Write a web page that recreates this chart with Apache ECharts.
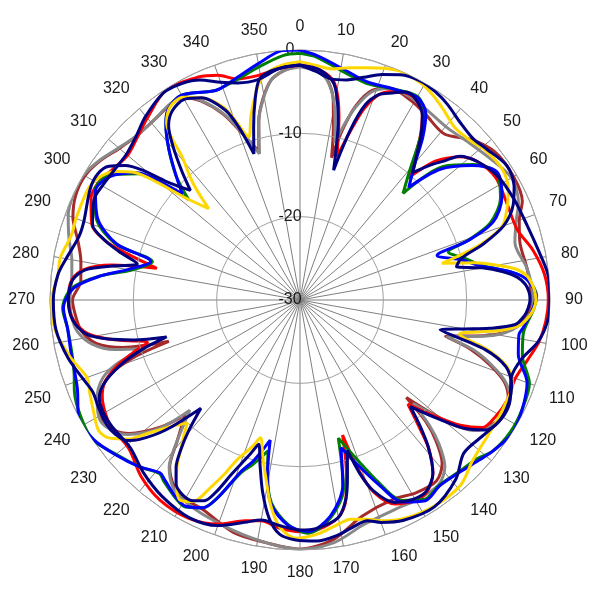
<!DOCTYPE html>
<html><head><meta charset="utf-8">
<script src="https://cdn.jsdelivr.net/npm/echarts@6/dist/echarts.min.js"></script>
<style>html,body{margin:0;padding:0;background:#fff}#c{width:600px;height:600px}</style>
</head><body><div id="c"></div>
<script>
// angle tick labels (degrees) and radius ticks (dB)
const angleTicks = [0,10,20,30,40,50,60,70,80,90,100,110,120,130,140,150,160,170,180,190,200,210,220,230,240,250,260,270,280,290,300,310,320,330,340,350];
const radiusTicks = [-30,-20,-10,0];

// pattern 1 (blue, green)
const anglesP1 = [0,4,10,17,24,30,34,37,40,44,47,52,57,63,68,70.5,72,
76,79,82.6,85,89,92,97,99,104,110,116,122,128,132,137,143,148,153,157,160,164.5,167,172,178,183,188,190.5,192,
196,199,202.6,205,209,212,217,219,224,230,236,242,248,252,257,263,268,273,277,280,284.5,287,292,298,303,308,310.5,312,
315,319,322.6,325,329,332,337,339,344,350,356,360];
const green = [-0.4,-0.8,-2.0,-2.8,-2.3,-1.8,-3.2,-6.3,-9.4,-12.2,-6.5,-3.6,-1.9,-3.0,-5.4,-8.7,-11.3,
-9.5,-8.0,-4.3,-2.5,-1.6,-1.9,-2.8,-2.9,-2.5,-0.7,-0.3,-0.2,-0.6,-1.5,-1.9,-2.2,-1.8,-3.0,-6.5,-9.4,-12.8,-6.8,-3.6,-2.0,-3.0,-5.4,-8.7,-11.5,
-9.5,-8.0,-4.3,-2.5,-1.6,-1.9,-2.8,-3.2,-2.2,-1.2,0.0,-0.2,-0.8,-1.5,-1.9,-1.9,-1.5,-2.6,-6.0,-9.4,-11.7,-6.8,-3.6,-2.1,-2.6,-5.4,-8.7,-12.0,
-9.0,-6.0,-3.5,-2.3,-1.6,-1.9,-2.8,-2.9,-2.5,-1.6,-0.6,-0.4];
const blue = [0.0,-0.6,-1.7,-2.6,-2.3,-1.9,-3.0,-5.5,-8.5,-11.2,-7.0,-3.8,-1.8,-2.8,-5.0,-8.5,-12.7,
-10.0,-8.2,-4.3,-2.6,-1.7,-2.0,-3.0,-3.4,-3.0,-1.0,-0.3,0.1,-0.6,-1.2,-1.8,-2.1,-1.6,-2.8,-6.0,-8.5,-11.6,-7.2,-3.8,-2.2,-2.9,-5.2,-8.5,-12.8,
-10.0,-8.2,-4.3,-2.5,-1.7,-2.0,-3.0,-3.3,-2.2,-1.1,-0.1,0.1,-1.2,-1.6,-1.8,-1.9,-1.6,-2.8,-6.0,-9.0,-11.5,-7.0,-3.8,-2.2,-2.8,-5.2,-8.5,-11.0,
-9.0,-6.0,-3.5,-2.3,-1.6,-1.9,-2.8,-2.9,-2.3,-1.2,0.0,0.0];

// pattern 2 (yellow, navy A)
const anglesP2 = [0,4,8,12,16,20,24,29,33,37,42,47,51,57,62,66,70,73,75.5,
78,80,82,84,86,88,90,92,94,96.5,98.5,100,102,
105,108,112,116,121,126,133,139,147,155,160,163,167,171,176,181,185,188,191,193.5,196,
198,201.5,203.5,205.5,208,211,214,216.5,218.5,220.5,222.5,
226,229,231,234,237,242,246,250,256,263,270,276,280,286,290,298,302,305,307.5,309.5,311.5,315,
317.5,320.5,323,326,330,334,338.5,340.5,342.5,345,347.5,349.5,352,356,360];
const yellow = [-1.4,-1.8,-2.0,-1.5,-1.0,-0.4,0.0,-0.2,-0.7,-1.4,-2.2,-2.0,-1.4,-1.1,-1.7,-2.8,-4.2,-7.5,-12.4,
-8.5,-6.0,-3.7,-2.6,-2.1,-1.8,-1.7,-1.9,-2.4,-3.4,-5.5,-8.0,-10.4,
-6.5,-3.8,-2.5,-2.4,-2.3,-2.2,-1.7,-0.6,-0.5,-1.0,-1.8,-2.5,-3.0,-2.6,-1.8,-1.4,-2.6,-5.0,-8.4,-10.8,-12.8,
-11.5,-9.4,-7.2,-5.1,-2.6,-2.0,-3.5,-5.2,-7.0,-8.5,-10.0,
-8.0,-5.5,-3.5,-1.8,-1.2,-1.9,-2.4,-2.8,-1.6,-0.4,-0.2,-0.8,-0.8,-1.5,-1.4,-1.3,-1.9,-3.1,-4.8,-7.8,-11.3,-14.5,
-11.0,-7.8,-3.4,-2.1,-1.9,-3.0,-5.2,-7.5,-9.5,-7.2,-5.0,-3.4,-2.4,-1.7,-1.4];
const navyA = [-1.8,-2.5,-3.2,-3.0,-2.2,-1.2,-0.4,0.0,-0.2,-0.6,-1.3,-1.6,-1.2,-0.4,-0.9,-2.0,-4.0,-7.0,-10.0,
-10.8,-7.8,-5.5,-3.8,-2.9,-2.5,-2.4,-2.6,-3.0,-4.0,-7.0,-10.0,-12.8,
-7.0,-4.0,-2.6,-2.1,-2.0,-2.6,-3.1,-1.5,-0.4,-0.8,-1.6,-2.3,-2.0,-1.4,-1.0,-1.2,-1.8,-3.5,-6.5,-9.5,-12.0,
-10.5,-7.5,-5.0,-3.3,-2.7,-2.7,-3.4,-5.0,-7.0,-9.5,-12.4,
-7.5,-4.5,-3.2,-2.6,-2.4,-2.6,-2.8,-2.3,-1.3,-0.5,-0.4,-0.8,-1.5,-2.4,-2.4,-1.5,-1.4,-2.0,-3.5,-5.5,-8.5,-11.4,
-9.0,-6.0,-3.8,-2.6,-2.2,-3.0,-5.5,-8.0,-11.6,-8.5,-5.2,-3.1,-2.4,-2.0,-1.8];

// pattern 3 (red, navy B)
const anglesP3 = [0,5,9,12,14.5,
16.5,18.5,21,24,27,30,33.5,36.5,39,41.5,
44,46,48,52,58,65,72,78,84,90,95,100,105,110,116,121,125,128,131,134,
136.5,139,142.5,146.5,150.5,155,159,161,162.5,
165,167,170,176,180,185,190,194,200,207,215,222,229,236,240,244,247,250,252.5,254.5,
256.5,258.5,261,265,270,275,278,280.5,282.5,
285,287,290,296,300,305,310,315,320,327.5,335.5,340,344,349,355,360];
const red = [-1.8,-2.3,-3.6,-7.5,-12.3,
-9.0,-5.8,-3.6,-2.6,-2.1,-2.2,-3.4,-5.8,-8.2,-10.4,
-7.0,-5.5,-4.3,-3.0,-2.3,-2.6,-2.6,-1.4,-0.5,-0.2,-0.4,-0.9,-1.8,-2.5,-2.4,-2.7,-3.3,-5.6,-8.9,-12.0,
-9.5,-6.5,-3.8,-2.4,-2.3,-3.0,-5.3,-8.5,-13.0,
-8.5,-5.5,-3.5,-2.3,-2.2,-2.5,-3.1,-2.7,-1.4,-0.6,-0.7,-1.5,-2.8,-2.7,-3.0,-3.6,-4.5,-6.5,-9.0,-11.0,
-9.0,-6.5,-4.2,-2.7,-2.2,-2.5,-3.8,-7.0,-12.4,
-8.5,-5.5,-3.4,-2.1,-2.0,-2.6,-3.0,-2.4,-1.5,-0.1,-0.6,-1.3,-2.4,-2.6,-2.1,-1.8];
const navyB = [-1.8,-2.3,-3.8,-8.0,-13.9,
-8.7,-5.3,-3.6,-2.8,-2.0,-2.2,-3.4,-5.6,-7.8,-9.6,
-7.5,-6.0,-4.2,-3.0,-2.0,-1.6,-1.3,-0.8,-0.1,0.0,-0.2,-1.0,-2.5,-3.0,-2.0,-2.0,-2.8,-5.0,-8.5,-11.6,
-9.0,-6.5,-3.8,-2.5,-2.5,-3.2,-5.5,-8.0,-11.1,
-8.0,-5.5,-3.5,-2.5,-2.4,-2.8,-3.2,-2.5,-1.2,-0.7,-1.2,-2.0,-3.0,-2.8,-2.8,-3.2,-4.5,-7.0,-10.0,-13.4,
-9.5,-6.5,-4.0,-2.6,-2.2,-2.6,-4.0,-7.5,-10.0,
-7.5,-5.5,-3.5,-2.5,-2.6,-2.8,-2.8,-2.2,-1.2,-0.2,-1.0,-2.2,-2.9,-3.1,-2.1,-1.8];

// pattern 4 (gray, brown)
const anglesP4 = [0,4,7,9.5,11,12.5,
14,16,19,23,29,34,41,47,53,60,66,70,75,82,87,90,94,98,101,104,
106,109,112,115.5,120,123.5,127,129.5,131,132.5,
134,136,139,143,149,155,164,172,180,188,196,205,210,214,218,221,225,
227.5,232,235,239,244,248.5,251,252.5,
255,258,262,266,270,275,280,285,290,295,300,305,310,315,321,326,330,333.5,337.5,340.5,344.5,
347,349.5,352.5,356,360];
const gray = [-2.0,-2.4,-3.4,-5.6,-8.0,-10.7,
-8.5,-6.0,-3.6,-2.4,-2.3,-2.6,-2.8,-2.3,-1.6,-0.7,-1.3,-2.4,-3.3,-2.5,-2.1,-2.0,-2.5,-4.3,-7.3,-11.8,
-8.4,-5.5,-3.3,-2.1,-1.9,-2.6,-4.0,-6.7,-9.3,-11.6,
-8.5,-6.0,-3.5,-2.3,-2.2,-2.4,-2.0,-0.6,-0.1,-0.6,-1.2,-1.8,-2.2,-2.8,-4.5,-7.5,-11.3,
-7.3,-3.8,-2.6,-2.0,-2.9,-4.6,-7.0,-10.5,
-7.0,-4.5,-3.0,-2.5,-2.4,-2.5,-2.2,-1.3,-0.4,0.0,0.0,-0.7,-1.6,-2.2,-2.2,-1.8,-1.8,-3.2,-5.7,-8.4,-11.8,
-8.0,-5.6,-3.4,-2.4,-2.0];
const brown = [-1.9,-2.3,-3.3,-5.8,-9.0,-12.5,
-9.0,-5.8,-3.4,-2.4,-2.6,-3.1,-3.6,-1.8,-0.6,-0.4,-0.8,-2.0,-2.7,-2.5,-2.3,-2.3,-2.7,-4.5,-7.5,-12.0,
-8.8,-5.8,-3.5,-2.3,-2.0,-2.7,-4.2,-7.0,-9.8,-12.7,
-9.0,-6.5,-4.0,-2.8,-3.0,-3.6,-3.0,-1.0,-0.1,-0.6,-1.0,-2.3,-2.4,-3.0,-4.6,-7.5,-10.5,
-7.5,-4.0,-2.8,-2.2,-3.2,-5.5,-9.0,-13.5,
-8.0,-5.0,-3.5,-3.0,-2.7,-3.6,-3.3,-2.4,-1.0,-0.3,-0.2,-0.8,-1.7,-2.2,-2.2,-1.9,-1.9,-3.3,-5.8,-8.5,-11.5,
-8.0,-5.5,-3.4,-2.4,-1.9];

const FONT = "'Liberation Sans', Arial, sans-serif";
function mk(name, angles, vals, color, z) {
  return {
    name: name, type: 'line', coordinateSystem: 'polar',
    data: angles.map((a, i) => [vals[i], a]),
    showSymbol: false, symbol: 'none', smooth: 0.3, clip: false, z: z,
    lineStyle: { color: color, width: 3 }, itemStyle: { color: color }
  };
}

const chart = echarts.init(document.getElementById('c'), null, { renderer: 'canvas' });
chart.setOption({
  animation: false,
  backgroundColor: '#ffffff',
  polar: { center: [300, 300], radius: 250 },
  angleAxis: {
    type: 'value', min: 0, max: 360, interval: 10, startAngle: 90, clockwise: true,
    axisLine: { show: true, lineStyle: { color: '#a0a0a0', width: 1 } },
    axisTick: { show: false },
    axisLabel: { show: true, margin: 15, color: '#1a1a1a', fontSize: 16, fontFamily: FONT,
      formatter: v => (angleTicks.indexOf(v) >= 0 ? String(v) : '') },
    splitLine: { show: true, lineStyle: { color: '#808080', width: 1 } }
  },
  radiusAxis: {
    type: 'value', min: radiusTicks[0], max: radiusTicks[radiusTicks.length - 1], interval: 10,
    axisLine: { show: false }, axisTick: { show: false },
    axisLabel: { show: true, margin: 10, align: 'center', color: '#1a1a1a', fontSize: 16, fontFamily: FONT },
    splitLine: { show: true, lineStyle: { color: '#a0a0a0', width: 1 } },
    z: 5
  },
  series: [
    mk('brown', anglesP4, brown, '#a52a2a', 2),
    mk('gray', anglesP4, gray, '#888888', 3),
    mk('red', anglesP3, red, '#ff0000', 4),
    mk('green', anglesP1, green, '#008000', 5),
    mk('blue', anglesP1, blue, '#0000ff', 6),
    mk('yellow', anglesP2, yellow, '#ffd700', 7),
    mk('navyB', anglesP3, navyB, '#000080', 8),
    mk('navyA', anglesP2, navyA, '#000080', 9)
  ]
});
</script>
</body></html>
